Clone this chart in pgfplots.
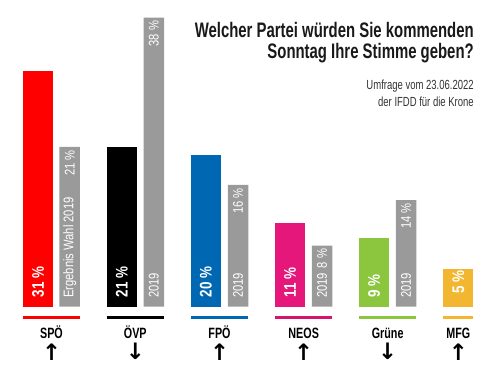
\documentclass[border=0pt]{standalone}
\usepackage{fontspec}
\usepackage{pgfplots}
\pgfplotsset{compat=1.18}
\setmainfont{Liberation Sans}
\newfontfamily\titlefont{Liberation Sans}[FakeStretch=0.71]
\newfontfamily\condfont{Liberation Sans}[FakeStretch=0.72]
\newfontfamily\barfont{Liberation Sans}[FakeStretch=0.80]
\newfontfamily\arrowfont{DejaVu Sans}
\definecolor{cSPO}{HTML}{FF0000}
\definecolor{cOVP}{HTML}{000000}
\definecolor{cFPO}{HTML}{0068B3}
\definecolor{cNEOS}{HTML}{E5177A}
\definecolor{cGRU}{HTML}{8CC63F}
\definecolor{cMFG}{HTML}{F2B630}
\definecolor{cGray}{HTML}{9A9A9A}
\begin{document}
\begin{tikzpicture}
\begin{axis}[
  scale only axis, width=373.5pt, height=282pt,
  xmin=0, xmax=498, ymin=-9.145, ymax=40.33,
  hide axis, clip=false,
  ybar, bar shift=0pt,
]
\path (rel axis cs:0,0) rectangle (rel axis cs:1,1);
% current poll
\addplot[ybar, bar width=30, fill=cSPO, draw=none] coordinates {(38,31)};
\addplot[ybar, bar width=30, fill=cOVP, draw=none] coordinates {(121.7,21)};
\addplot[ybar, bar width=30, fill=cFPO, draw=none] coordinates {(205.8,20)};
\addplot[ybar, bar width=30, fill=cNEOS, draw=none] coordinates {(290,11)};
\addplot[ybar, bar width=30, fill=cGRU, draw=none] coordinates {(374.2,9)};
\addplot[ybar, bar width=30, fill=cMFG, draw=none] coordinates {(458.3,5)};
% election 2019
\addplot[ybar, bar width=20.5, fill=cGray, draw=none] coordinates {(69.7,21) (153.8,38) (238,16) (322,8) (406,14)};
% underlines
\addplot[sharp plot, line width=2.6pt, cSPO] coordinates {(23,-1.47) (80,-1.47)};
\addplot[sharp plot, line width=2.6pt, cOVP] coordinates {(106.7,-1.47) (164,-1.47)};
\addplot[sharp plot, line width=2.6pt, cFPO] coordinates {(191,-1.47) (248,-1.47)};
\addplot[sharp plot, line width=2.6pt, cNEOS!92!black] coordinates {(275,-1.47) (332.3,-1.47)};
\addplot[sharp plot, line width=2.6pt, cGRU] coordinates {(359.3,-1.47) (416,-1.47)};
\addplot[sharp plot, line width=2.6pt, cMFG] coordinates {(443.3,-1.47) (473.3,-1.47)};
% in-bar labels (colored)
\begin{scope}[every node/.style={rotate=90, text=white, font=\barfont\bfseries\fontsize{12.6}{12.6}\selectfont, inner sep=0pt}]
\node[anchor=west] at (axis cs:38,1.18) {31 \%};
\node[anchor=west] at (axis cs:121.7,1.18) {21 \%};
\node[anchor=west] at (axis cs:205.8,1.18) {20 \%};
\node[anchor=west] at (axis cs:290,1.18) {11 \%};
\node[anchor=west] at (axis cs:374.2,1.18) {9 \%};
\node[anchor=east] at (axis cs:458.3,4.75) {5 \%};
\end{scope}
% in-bar labels (gray)
\begin{scope}[every node/.style={rotate=90, text=white, font=\barfont\fontsize{10.5}{10.5}\selectfont, inner sep=0pt}]
\node[anchor=west] at (axis cs:69.7,1.1) {Ergebnis Wahl 2019};
\node[anchor=east] at (axis cs:69.7,20.6) {21 \%};
\node[anchor=west] at (axis cs:153.8,1.1) {2019};
\node[anchor=east] at (axis cs:153.8,37.6) {38 \%};
\node[anchor=west] at (axis cs:238,1.1) {2019};
\node[anchor=east] at (axis cs:238,15.6) {16 \%};
\node[anchor=west] at (axis cs:322,1.1) {2019};
\node[anchor=east] at (axis cs:322,7.6) {8 \%};
\node[anchor=west] at (axis cs:406,1.1) {2019};
\node[anchor=east] at (axis cs:406,13.6) {14 \%};
\end{scope}
% party names
\begin{scope}[every node/.style={anchor=base, inner sep=0pt, font=\condfont\bfseries\fontsize{11.2}{11.2}\selectfont}]
\node at (axis cs:51.5,-4.2) {SPÖ};
\node at (axis cs:135.3,-4.2) {ÖVP};
\node at (axis cs:219.5,-4.2) {FPÖ};
\node at (axis cs:303.7,-4.2) {NEOS};
\node at (axis cs:387.7,-4.2) {Grüne};
\node at (axis cs:458.3,-4.2) {MFG};
\end{scope}
% trend arrows
\begin{scope}[every node/.style={anchor=center, inner sep=0pt, font=\arrowfont\bfseries\fontsize{17}{17}\selectfont}]
\node at (axis cs:51.5,-5.95) {↑};
\node at (axis cs:135.3,-5.95) {↓};
\node at (axis cs:219.5,-5.95) {↑};
\node at (axis cs:303.7,-5.95) {↑};
\node at (axis cs:387.7,-5.95) {↓};
\node at (axis cs:458.3,-5.95) {↑};
\end{scope}
% title and subtitle
\node[anchor=base east, inner sep=0pt, text=black!90, font=\titlefont\bfseries\fontsize{15.75}{15.75}\selectfont] at (axis cs:474,35.42) {Welcher Partei würden Sie kommenden};
\node[anchor=base east, inner sep=0pt, text=black!90, font=\titlefont\bfseries\fontsize{15.75}{15.75}\selectfont] at (axis cs:474,32.66) {Sonntag Ihre Stimme geben?};
\node[anchor=base east, inner sep=0pt, text=black!80, font=\condfont\fontsize{9.9}{9.9}\selectfont] at (axis cs:474,28.55) {Umfrage vom 23.06.2022};
\node[anchor=base east, inner sep=0pt, text=black!80, font=\condfont\fontsize{9.9}{9.9}\selectfont] at (axis cs:474,26.29) {der IFDD für die Krone};
\end{axis}
\end{tikzpicture}
\end{document}
